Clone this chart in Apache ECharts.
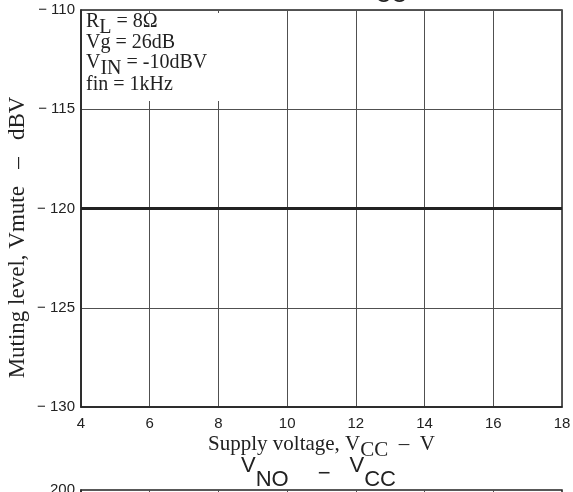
<!DOCTYPE html>
<html>
<head>
<meta charset="utf-8">
<script src="https://cdn.jsdelivr.net/npm/echarts@6/dist/echarts.min.js"></script>
<style>html,body{margin:0;padding:0;background:#fff}#c{width:573px;height:492px}</style>
</head>
<body>
<div id="c"></div>
<script>
// ---- data ----
const supplyVoltage = [4, 18];          // V_CC (V)
const mutingLevel = [-120, -120];       // Vmute (dBV)
const xMin = 4, xMax = 18, xStep = 2;
const yMin = -130, yMax = -110, yStep = 5;
const conditionLines = [
  '{n|R}{s|L}{n| = 8\u03A9}',
  '{n|Vg = 26dB}',
  '{n|V}{s|IN}{n| = -10dBV}',
  '{n|fin = 1kHz}'
];
const xAxisTitle = '{n|Supply voltage, V}{s|CC}{n|  \u2013  V}';
const yAxisTitle = 'Muting level, Vmute   \u2013   dBV';

const serif = '"Liberation Serif", "Times New Roman", serif';
const sans = '"Liberation Sans", Arial, sans-serif';
const ink = '#222';

const richSerif = {
  n: {fontFamily: serif, fontSize: 20, lineHeight: 20, verticalAlign: 'top', fill: ink, color: ink},
  s: {fontFamily: serif, fontSize: 20, lineHeight: 20, verticalAlign: 'top', padding: [6, 0, 0, 0], fill: ink, color: ink}
};
const richAxis = {
  n: {fontFamily: serif, fontSize: 21, lineHeight: 20, verticalAlign: 'top', color: ink},
  s: {fontFamily: serif, fontSize: 21, lineHeight: 20, verticalAlign: 'top', padding: [6, 0, 0, 0], color: ink}
};
const richTitle = {
  v: {fontFamily: sans, fontSize: 22, lineHeight: 22, verticalAlign: 'top', fill: ink},
  m: {fontFamily: sans, fontSize: 22, lineHeight: 22, verticalAlign: 'top', padding: [8, 0, 0, 0], fill: ink},
  s: {fontFamily: sans, fontSize: 22, lineHeight: 22, verticalAlign: 'top', padding: [14, 0, 0, 0], fill: ink},
  g1: {width: 29, lineHeight: 22, verticalAlign: 'top'},
  g2: {width: 19, lineHeight: 22, verticalAlign: 'top'}
};

const chart = echarts.init(document.getElementById('c'));
const annotationY = [12, 32.5, 52.5, 75];
const graphics = [
  {type: 'rect', z: 50, shape: {x: 83, y: 13, width: 203, height: 88}, style: {fill: '#fff'}}
];
conditionLines.forEach((t, i) => {
  graphics.push({type: 'text', z: 51, x: 86, y: annotationY[i],
    style: {text: t, rich: richSerif, verticalAlign: 'top', align: 'left'}});
});
// next / previous chart titles, cut by the frame
graphics.push({type: 'text', z: 51, x: 241, y: 455,
  style: {text: '{v|V}{s|NO}{g1|}{m|\u2212}{g2|}{v|V}{s|CC}', rich: richTitle, verticalAlign: 'top', align: 'left'}});
graphics.push({type: 'text', z: 51, x: 407, y: -28.7,
  style: {text: '{v|Vmute  \u2212  V}{s|CC}', rich: richTitle, verticalAlign: 'top', align: 'right'}});

chart.setOption({
  animation: false,
  grid: [
    {left: 81, right: 11, top: 10, height: 397, show: true, borderColor: ink, borderWidth: 1.5,
     containLabel: false, outerBoundsMode: 'none'},
    {left: 81, right: 11, top: 490, height: 300, show: true, borderColor: ink, borderWidth: 1.5,
     containLabel: false, outerBoundsMode: 'none'}
  ],
  xAxis: [
    {gridIndex: 0, type: 'value', min: xMin, max: xMax, interval: xStep,
     axisLine: {show: true, lineStyle: {color: ink, width: 1.5}},
     axisTick: {show: false},
     axisLabel: {color: ink, fontFamily: sans, fontSize: 15, margin: 9},
     splitLine: {show: true, lineStyle: {color: '#505050', width: 1}},
     name: xAxisTitle, nameLocation: 'middle', nameGap: 27, nameMoveOverlap: false,
     nameTextStyle: {rich: richAxis}},
    {gridIndex: 1, type: 'value', min: xMin, max: xMax, interval: xStep,
     axisLine: {show: true, lineStyle: {color: ink, width: 1.5}},
     axisTick: {show: false}, axisLabel: {show: false},
     splitLine: {show: true, lineStyle: {color: '#505050', width: 1}}}
  ],
  yAxis: [
    {gridIndex: 0, type: 'value', min: yMin, max: yMax, interval: yStep,
     axisLine: {show: true, lineStyle: {color: ink, width: 1.5}},
     axisTick: {show: false},
     axisLabel: {color: ink, fontFamily: sans, fontSize: 15, margin: 6,
       formatter: v => '\u2212 ' + Math.abs(v)},
     splitLine: {show: true, lineStyle: {color: '#505050', width: 1}},
     name: yAxisTitle, nameLocation: 'middle', nameGap: 52, nameMoveOverlap: false,
     nameTextStyle: {fontFamily: serif, fontSize: 23, color: ink, padding: [0, 58, 0, 0]}},
    {gridIndex: 1, type: 'value', min: 0, max: 200, interval: 50,
     axisLine: {show: true, lineStyle: {color: ink, width: 1.5}},
     axisTick: {show: false},
     axisLabel: {color: ink, fontFamily: sans, fontSize: 15, margin: 6,
       formatter: v => (v === 200 ? '200' : '')},
     splitLine: {show: false}}
  ],
  series: [
    {type: 'line', xAxisIndex: 0, yAxisIndex: 0, z: 5,
     data: supplyVoltage.map((v, i) => [v, mutingLevel[i]]),
     symbol: 'none', lineStyle: {color: ink, width: 3}}
  ],
  graphic: graphics
});
</script>
</body>
</html>
